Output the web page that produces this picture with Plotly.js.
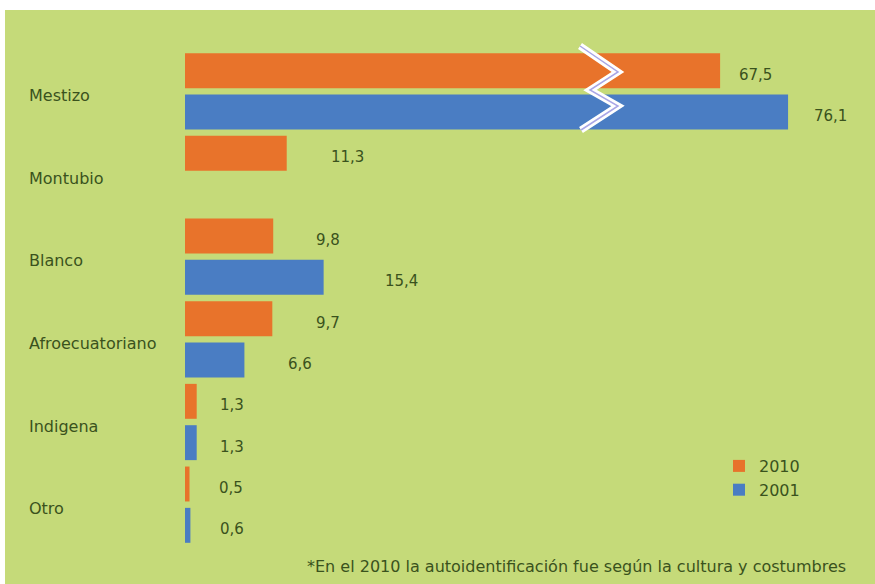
<!DOCTYPE html>
<html>
<head>
<meta charset="utf-8">
<script src="https://cdn.plot.ly/plotly-3.0.1.min.js"></script>
<style>html,body{margin:0;padding:0;background:#fff;}#chart{width:875px;height:584px;}</style>
</head>
<body>
<div id="chart"></div>
<script>
// ---- data ----
const categories = ['Mestizo', 'Montubio', 'Blanco', 'Afroecuatoriano', 'Indigena', 'Otro'];
const series2010 = [67.5, 11.3, 9.8, 9.7, 1.3, 0.5];
const series2001 = [76.1, null, 15.4, 6.6, 1.3, 0.6];
const labels2010 = ['67,5', '11,3', '9,8', '9,7', '1,3', '0,5'];
const labels2001 = ['76,1', '', '15,4', '6,6', '1,3', '0,6'];
const seriesNames = ['2010', '2001'];
const footnote = '*En el 2010 la autoidentificación fue según la cultura y costumbres';

// ---- styling ----
const W = 875, H = 584;
const M = {l: 0, r: 0, t: 50, b: 38};
const breakLow = 46.1, breakHigh = 52.3, axisMax = 87.1;
const breakPx = 600, startPx = 185;
const labelGap2010 = [17, 42, 41, 42, 21, 27];
const labelGap2001 = [24, 0, 59, 42, 21, 28];
const orange = '#e8732b', blue = '#4a7dc3', green = '#c5da79', textCol = '#3a521d';
const FONT = 'DejaVu Sans, sans-serif';

const plotH = H - M.t - M.b;
const px2x = p => (p - M.l) / (W - M.l - M.r);
const py2y = p => (H - M.b - p) / plotH;

const traces = [];
[['x', 'y', true], ['x2', 'y', false]].forEach(([xa, ya, legend]) => {
  [series2010, series2001].forEach((vals, i) => {
    traces.push({
      type: 'bar', orientation: 'h',
      x: vals, y: categories,
      xaxis: xa, yaxis: ya,
      name: seriesNames[i],
      legendgroup: seriesNames[i],
      showlegend: legend,
      marker: {color: i === 0 ? orange : blue, line: {width: 0}},
      hoverinfo: 'skip'
    });
  });
});

const annotations = [];
categories.forEach((c, k) => {
  annotations.push({
    xref: 'paper', yref: 'y', x: px2x(27), y: k, xanchor: 'left', yanchor: 'middle',
    yshift: -4, text: c, showarrow: false,
    font: {family: FONT, size: 16, color: textCol}
  });
});
function addVal(vals, labels, gaps, off) {
  vals.forEach((v, k) => {
    if (v === null) return;
    const big = v > breakLow;
    annotations.push({
      xref: big ? 'x2' : 'x', yref: 'y', x: v, y: k + off,
      xanchor: 'left', yanchor: 'middle', xshift: gaps[k], yshift: -4,
      text: labels[k], showarrow: false,
      font: {family: FONT, size: 15, color: textCol}
    });
  });
}
addVal(series2010, labels2010, labelGap2010, -0.25);
addVal(series2001, labels2001, labelGap2001, 0.25);
annotations.push({
  xref: 'paper', yref: 'paper', x: px2x(305), y: py2y(566),
  xanchor: 'left', yanchor: 'middle', text: footnote, showarrow: false,
  font: {family: FONT, size: 16, color: textCol}
});

// zigzag break marker
const zz = [[580, 46], [618, 72], [590, 90], [618, 106], [581, 130]];
const zzPath = zz.map((p, i) => (i ? 'L' : 'M') + px2x(p[0]).toFixed(5) + ',' + py2y(p[1]).toFixed(5)).join(' ');

const shapes = [
  {type: 'rect', xref: 'paper', yref: 'paper', x0: -0.01, x1: px2x(5), y0: -0.2, y1: 1.2,
   fillcolor: '#ffffff', line: {width: 0}, layer: 'below'},
  {type: 'rect', xref: 'paper', yref: 'paper', x0: -0.01, x1: 1.01, y0: py2y(10), y1: 1.2,
   fillcolor: '#ffffff', line: {width: 0}, layer: 'below'},
  {type: 'path', xref: 'paper', yref: 'paper', path: zzPath, line: {color: '#ffffff', width: 7}, layer: 'above'},
  {type: 'path', xref: 'paper', yref: 'paper', path: zzPath, line: {color: '#a9a6e6', width: 1.5}, layer: 'above'}
];

const hidden = {showgrid: false, zeroline: false, showline: false, showticklabels: false, ticks: '', fixedrange: true};
const layout = {
  width: W, height: H,
  margin: M,
  paper_bgcolor: green, plot_bgcolor: 'rgba(0,0,0,0)',
  barmode: 'group', bargap: 0, bargroupgap: 0.155,
  xaxis: Object.assign({}, hidden, {domain: [px2x(startPx), px2x(breakPx)], range: [0, breakLow], anchor: 'y'}),
  xaxis2: Object.assign({}, hidden, {domain: [px2x(breakPx), 1], range: [breakHigh, axisMax], anchor: 'y'}),
  yaxis: Object.assign({}, hidden, {type: 'category', range: [5.5, -0.5], categoryorder: 'array', categoryarray: categories}),
  showlegend: true,
  legend: {x: px2x(719), y: py2y(449), xanchor: 'left', yanchor: 'top', bgcolor: 'rgba(0,0,0,0)',
           font: {family: FONT, size: 16, color: textCol}, tracegroupgap: 7, traceorder: 'normal'},
  annotations: annotations,
  shapes: shapes
};

Plotly.newPlot('chart', traces, layout, {staticPlot: true, displayModeBar: false});
</script>
</body>
</html>
